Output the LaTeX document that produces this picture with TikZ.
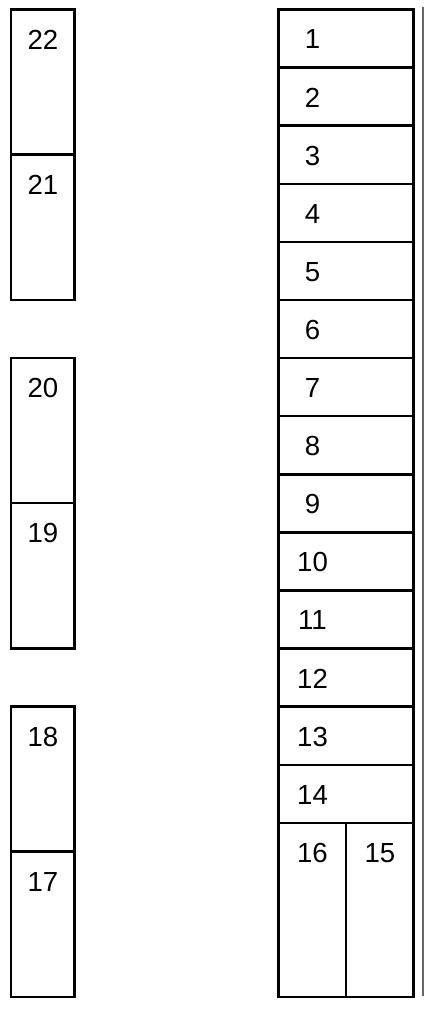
\documentclass[tikz,border=0pt]{standalone}
\usepackage{fontspec}
\setmainfont{Liberation Sans}
\usepackage{tikz}
\usetikzlibrary{positioning, calc}

\begin{document}
\begin{tikzpicture}[
		box/.style={rectangle, draw, line width=1.25pt, outer sep=0pt, inner sep=0pt},
		tag/.style={anchor=center, inner sep=0pt, yshift=-15pt, font=\fontsize{13.8}{16}\selectfont},
		tall/.style={box, minimum width=31.75pt, minimum height=72.6pt, label={[tag]north:#1}},
		row/.style={box, minimum width=67.5pt, minimum height=29.05pt, label={[tag, xshift=16.9pt]north west:#1}},
		half/.style={box, minimum width=33.75pt, minimum height=87.15pt, label={[tag]north:#1}},
		rail/.style={line width=0.9pt, color=black!60}
	]
		
		\useasboundingbox (0,0) rectangle (217pt,-505pt);
		
		% left column
		\node[tall=22, anchor=north west] (L22) at (5.6pt,-4.75pt) {};
		\node[tall=21, below=0pt of L22] (L21) {};
		\node[tall=20, below=29.05pt of L21] (L20) {};
		\node[tall=19, below=0pt of L20] (L19) {};
		\node[tall=18, below=29.05pt of L19] (L18) {};
		\node[tall=17, below=0pt of L18] (L17) {};
		
		% right column
		\node[row=1, anchor=north west] (R1) at (139.35pt,-4.75pt) {};
		\foreach \i [remember=\i as \j (initially 1)] in {2,...,14}
			\node[row=\i, below=0pt of R\j] (R\i) {};
		\node[half=16, below right=0pt of R14.south west] (R16) {};
		\node[half=15, right=0pt of R16] (R15) {};
		
		\coordinate (railtop) at ([xshift=4.5pt, yshift=1.25pt]R1.north east);
		\coordinate (railbot) at ([xshift=4.5pt, yshift=0.5pt]R15.south east);
		\draw[rail] (railtop) -- (railbot);
		
	\end{tikzpicture}
\end{document}
